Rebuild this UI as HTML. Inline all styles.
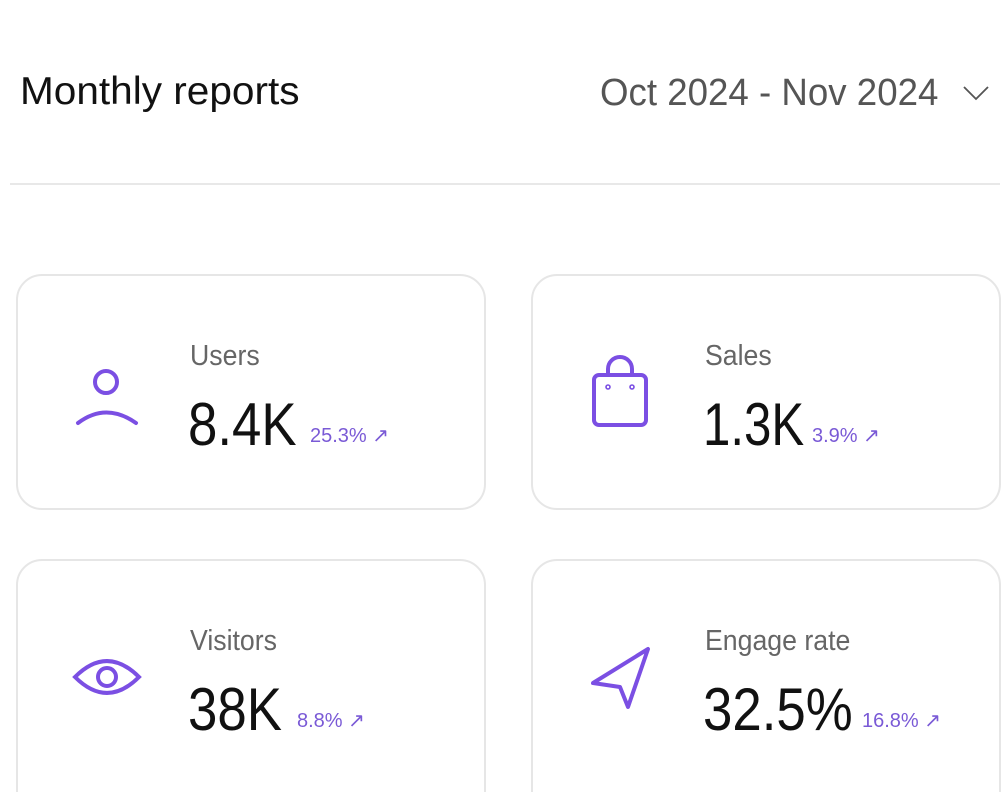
<!DOCTYPE html>
<html style="width:1006px;height:792px;overflow:hidden"><head><style>
body{margin:0;width:1006px;height:792px;background:#fff;position:relative;overflow:hidden;font-family:"Liberation Sans",sans-serif;}
.a{position:absolute;white-space:nowrap;transform-origin:left top;}
.card{position:absolute;border:2px solid #e6e6e6;border-radius:26px;background:#fff;box-sizing:border-box;}
.lbl{font-size:29px;color:#666;transform:scaleX(0.92);}
.val{font-size:60px;color:#111;transform:scaleX(0.88);}
.pct{font-size:20px;color:#7a5ad6;}
svg{position:absolute;}
</style></head><body>
<div class="a" style="left:20px;top:70px;font-size:39px;color:#111;transform:scaleX(1.04)">Monthly reports</div>
<div class="a" style="left:600px;top:72px;font-size:38px;color:#555;transform:scaleX(0.965)">Oct 2024 - Nov 2024</div>
<svg style="left:960px;top:82px" width="32" height="22"><polyline points="4,5 16,17 28,5" fill="none" stroke="#555" stroke-width="1.8"/></svg>
<div style="position:absolute;left:10px;top:183px;width:990px;height:2px;background:#e8e8e8"></div>

<div class="card" style="left:16px;top:274px;width:470px;height:236px"></div>
<div class="card" style="left:531px;top:274px;width:470px;height:236px"></div>
<div class="card" style="left:16px;top:559px;width:470px;height:260px"></div>
<div class="card" style="left:531px;top:559px;width:470px;height:260px"></div>

<svg style="left:72px;top:362px" width="70" height="66" stroke="#7b4fe3" stroke-width="4" fill="none" stroke-linecap="round"><circle cx="34" cy="20" r="11"/><path d="M6 61 Q34 40 64 61"/></svg>
<div class="a lbl" style="left:190px;top:340px">Users</div>
<div class="a val" style="left:188px;top:390px">8.4K</div>
<div class="a pct" style="left:310px;top:423px">25.3% ↗</div>

<svg style="left:590px;top:355px" width="64" height="76" stroke="#7b4fe3" stroke-width="4" fill="none" stroke-linecap="round" stroke-linejoin="round"><rect x="4" y="20" width="52" height="50" rx="5"/><path d="M18 20 V14 a12 12 0 0 1 24 0 V20"/><circle cx="18" cy="32" r="0.8"/><circle cx="42" cy="32" r="0.8"/></svg>
<div class="a lbl" style="left:705px;top:340px">Sales</div>
<div class="a val" style="left:703px;top:390px;transform:scaleX(0.82)">1.3K</div>
<div class="a pct" style="left:812px;top:423px">3.9% ↗</div>

<svg style="left:70px;top:645px" width="74" height="64" stroke="#7b4fe3" stroke-width="4" fill="none"><path d="M5 32 Q37 0 69 32 Q37 64 5 32 Z"/><circle cx="37" cy="32" r="9"/></svg>
<div class="a lbl" style="left:190px;top:625px">Visitors</div>
<div class="a val" style="left:188px;top:675px">38K</div>
<div class="a pct" style="left:297px;top:708px">8.8% ↗</div>

<svg style="left:588px;top:643px" width="70" height="72" stroke="#7b4fe3" stroke-width="4" fill="none" stroke-linejoin="round"><path d="M5 40 L60 6 L40 64 L32 44 Z"/></svg>
<div class="a lbl" style="left:705px;top:625px">Engage rate</div>
<div class="a val" style="left:703px;top:675px">32.5%</div>
<div class="a pct" style="left:862px;top:708px">16.8% ↗</div>
</body></html>
